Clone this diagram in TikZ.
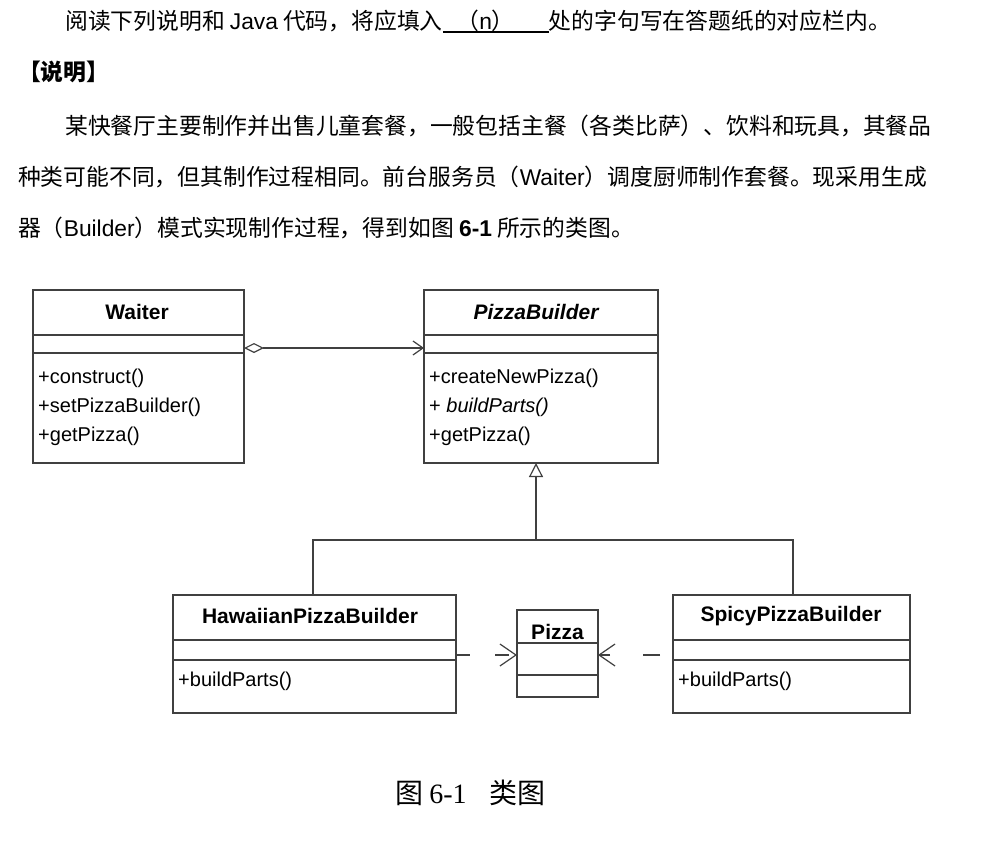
\documentclass[tikz,border=0pt]{standalone}
\usepackage{fontspec}
\setmainfont{Liberation Sans}
\newfontfamily\cjk{Noto Sans CJK SC}
\newfontfamily\serifl{Liberation Serif}
\usetikzlibrary{arrows.meta}
\begin{document}
\begin{tikzpicture}[x=1pt,y=-1pt,
  txt/.style={anchor=base west,inner sep=0pt,font=\fontsize{22.8}{22.8}\selectfont},
  cls/.style={inner sep=0pt,font=\fontsize{20}{20}\selectfont},
  bx/.style={draw=black!75,line width=1.2pt},
  ln/.style={draw=black!75,line width=1.2pt}]
\useasboundingbox[fill=white] (0,0) rectangle (985,859);
% text
\node[txt] (t1) at (65,30) {\cjk 阅读下列说明和 {\rmfamily Java} 代码，将应填入\rlap{\rule[-3pt]{106pt}{2pt}}\hspace{0.6em}（{\rmfamily n}）\hspace{1.5em}处的字句写在答题纸的对应栏内。};
\node[txt] (t2) at (18,81) {\cjk\bfseries 【说明】};
\node[txt] (t3) at (65,134) {\cjk 某快餐厅主要制作并出售儿童套餐，一般包括主餐（各类比萨）、饮料和玩具，其餐品};
\node[txt] (t4) at (18,185) {\cjk 种类可能不同，但其制作过程相同。前台服务员（{\rmfamily Waiter}）调度厨师制作套餐。现采用生成};
\node[txt] (t5) at (18,236) {\cjk 器（{\rmfamily Builder}）模式实现制作过程，得到如图 {\rmfamily\bfseries 6-1} 所示的类图。};
% Waiter
\draw[bx] (33,290) rectangle (244,463);
\draw[ln] (33,335) -- (244,335) (33,353) -- (244,353);
\node[cls,font=\bfseries\fontsize{21}{21}\selectfont] (wn) at (137,312) {Waiter};
\node[cls,anchor=north west,align=left] (wm) at (38,369) {+construct()\\[9pt]+setPizzaBuilder()\\[9pt]+getPizza()};
% PizzaBuilder
\draw[bx] (424,290) rectangle (658,463);
\draw[ln] (424,335) -- (658,335) (424,353) -- (658,353);
\node[cls,font=\bfseries\itshape\fontsize{21}{21}\selectfont] (pn) at (536,312) {PizzaBuilder};
\node[cls,anchor=north west,align=left] (pm) at (429,369) {+createNewPizza()\\[9pt]+ \itshape buildParts()\\[9pt]+getPizza()};
\coordinate (wr) at (244,348); \coordinate (pl) at (424,348);
\draw[ln,{Diamond[open,length=20pt,width=10pt]}-{Straight Barb[length=10pt,width=14pt]}] (wr) -- (pl);
% Hawaiian
\draw[bx] (173,595) rectangle (456,713);
\draw[ln] (173,640) -- (456,640) (173,660) -- (456,660);
\node[cls,font=\bfseries\fontsize{21}{21}\selectfont] (hn) at (310,616) {HawaiianPizzaBuilder};
\node[cls,anchor=north west] (hm) at (178,672) {+buildParts()};
% Spicy
\draw[bx] (673,595) rectangle (910,713);
\draw[ln] (673,640) -- (910,640) (673,660) -- (910,660);
\node[cls,font=\bfseries\fontsize{21}{21}\selectfont] (sn) at (791,616) {SpicyPizzaBuilder};
\node[cls,anchor=north west] (sm) at (678,672) {+buildParts()};
% Pizza
\draw[bx] (517,610) rectangle (598,697);
\draw[ln] (517,643) -- (598,643) (517,675) -- (598,675);
\node[cls,font=\bfseries\fontsize{21}{21}\selectfont] (zn) at (557.5,632) {Pizza};
% inheritance
\coordinate (pb) at (536,463); \coordinate (j) at (536,540);
\coordinate (ht) at (313,595); \coordinate (st) at (793,595);
\draw[ln,-{Triangle[open,length=14pt,width=14pt]}] (j) -- (pb);
\draw[ln] (ht) |- (j) -| (st);
% dependencies
\coordinate (hr) at (456,655); \coordinate (zl) at (517,655);
\coordinate (sl) at (673,655); \coordinate (zr) at (598,655);
\draw[ln,dash pattern=on 14pt off 25pt,-{Straight Barb[length=16pt,width=22pt]}] (hr) -- (zl);
\draw[ln,dash pattern=on 0pt off 13pt on 17pt off 20pt,-{Straight Barb[length=16pt,width=22pt]}] (sl) -- (zr);
% caption
\node[inner sep=0pt,font=\fontsize{28}{28}\selectfont] (cap) at (470,793) {\cjk 图 {\serifl 6-1}\hspace{0.8em}类图};
\end{tikzpicture}
\end{document}
